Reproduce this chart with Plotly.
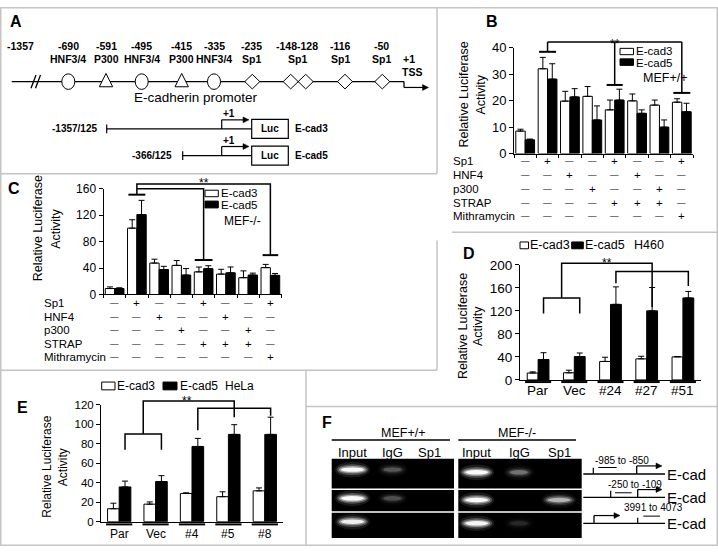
import plotly.graph_objects as go

W, H = 718, 554
FONT = "Liberation Sans, Arial, Helvetica, sans-serif"

# ------------------------------------------------------------------ data
treat_rows = ["Sp1", "HNF4", "p300", "STRAP", "Mithramycin"]
treat_matrix = [
    ["-", "+", "-", "-", "+", "-", "-", "+"],
    ["-", "-", "+", "-", "-", "+", "-", "-"],
    ["-", "-", "-", "+", "-", "-", "+", "-"],
    ["-", "-", "-", "-", "+", "+", "+", "-"],
    ["-", "-", "-", "-", "-", "-", "-", "+"],
]
series_names = ["E-cad3", "E-cad5"]

b_ecad3 = [8.5, 32.0, 19.8, 21.6, 16.5, 19.9, 18.3, 19.4]
b_ecad3_err = [0.7, 4.3, 3.7, 3.7, 3.7, 2.6, 1.9, 1.3]
b_ecad5 = [5.2, 28.1, 21.4, 12.7, 20.2, 15.2, 10.0, 15.8]
b_ecad5_err = [0.3, 5.8, 3.1, 5.3, 4.1, 1.3, 2.7, 3.2]
b_ticks = [0, 10, 20, 30, 40]

c_ecad3 = [9.0, 100.3, 47.5, 44.0, 34.2, 30.8, 25.4, 40.6]
c_ecad3_err = [2.5, 12.7, 5.9, 7.3, 7.3, 7.3, 10.3, 4.9]
c_ecad5 = [9.0, 120.8, 37.7, 29.4, 39.1, 32.8, 29.4, 28.9]
c_ecad5_err = [1.2, 21.5, 4.9, 9.8, 4.4, 8.8, 2.9, 2.9]
c_ticks = [0, 40, 80, 120, 160]

d_groups = ["Par", "Vec", "#24", "#27", "#51"]
d_ecad3 = [12.0, 12.4, 32.1, 36.6, 40.0]
d_ecad3_err = [2.0, 4.5, 7.3, 4.5, 0.7]
d_ecad5 = [35.5, 40.6, 131.3, 120.0, 142.5]
d_ecad5_err = [11.8, 6.2, 30.4, 40.6, 11.3]
d_ticks = [0, 40, 80, 120, 160, 200]

e_groups = ["Par", "Vec", "#4", "#5", "#8"]
e_ecad3 = [13.3, 18.0, 29.0, 25.7, 31.7]
e_ecad3_err = [5.7, 2.3, 0.7, 5.0, 3.0]
e_ecad5 = [35.7, 41.3, 77.3, 89.7, 89.7]
e_ecad5_err = [6.0, 6.0, 8.3, 10.0, 17.7]
e_ticks = [0, 20, 40, 60, 80, 100, 120]

promoter_pos = ["-1357", "-690", "-591", "-495", "-415", "-335", "-235", "-148-128", "-116", "-50"]
promoter_site = ["", "HNF3/4", "P300", "HNF3/4", "P300", "HNF3/4", "Sp1", "Sp1", "Sp1", "Sp1"]
construct_labels = ["-1357/125", "-366/125"]
construct_names = ["E-cad3", "E-cad5"]

gel_cells = ["MEF+/+", "MEF-/-"]
gel_lanes = ["Input", "IgG", "Sp1"]
gel_wt = [[1.0, 0.22, 0.0], [1.0, 0.2, 0.0], [0.9, 0.0, 0.0]]
gel_ko = [[1.0, 0.3, 0.0], [1.0, 0.0, 0.55], [0.95, 0.1, 0.0]]
gel_regions = ["-985 to -850", "-250 to -109", "3991 to 4073"]

# ------------------------------------------------------------------ helpers
def px(x):
    return x / W


def py(y):
    return 1 - y / H


shapes = []
annotations = []


def seg(x0, y0, x1, y1, w=1.2, color="black"):
    shapes.append(dict(type="line", xref="paper", yref="paper",
                       x0=px(x0), y0=py(y0), x1=px(x1), y1=py(y1),
                       line=dict(color=color, width=w)))


def rect(x0, y0, x1, y1, fill="white", lw=1.0, lc="black"):
    shapes.append(dict(type="rect", xref="paper", yref="paper",
                       x0=px(x0), y0=py(y0), x1=px(x1), y1=py(y1),
                       fillcolor=fill, line=dict(color=lc, width=lw)))


def ellipse(cx, cy, rx, ry, fill="white", lw=1.0, lc="black"):
    shapes.append(dict(type="circle", xref="paper", yref="paper",
                       x0=px(cx - rx), y0=py(cy + ry), x1=px(cx + rx), y1=py(cy - ry),
                       fillcolor=fill, line=dict(color=lc, width=lw)))


def poly_px(pts, fill=None, lw=1.0, closed=False):
    d = ""
    for i, (x, y) in enumerate(pts):
        d += ("M" if i == 0 else "L") + f"{px(x):.5f},{py(y):.5f}"
    if closed:
        d += "Z"
    s = dict(type="path", xref="paper", yref="paper", path=d,
             line=dict(color="black", width=lw))
    if fill:
        s["fillcolor"] = fill
    shapes.append(s)


def text(x, y, s, size=12, bold=False, xanchor="center", yanchor="middle",
         angle=0, color="black"):
    if bold:
        s = f"<b>{s}</b>"
    annotations.append(dict(xref="paper", yref="paper", x=px(x), y=py(y), text=s,
                            showarrow=False, xanchor=xanchor, yanchor=yanchor,
                            textangle=angle, borderpad=0,
                            font=dict(size=size, color=color, family=FONT)))


def arrow(x0, y, x1, lw=1.2, head=6, half=3):
    seg(x0, y, x1 - head + 1, y, w=lw)
    poly_px([(x1, y), (x1 - head, y - half), (x1 - head, y + half)], fill="black",
            lw=0.5, closed=True)


# ------------------------------------------------------------------ panels
PB = dict(x0=514, x1=693, n=8, yb=150.7, yt=41.7, ymax=40)
PC = dict(x0=103.5, x1=281.5, n=8, yb=295.5, yt=186.7, ymax=160)
PD = dict(x0=520, x1=701, n=5, yb=383.3, yt=265, ymax=200)
PE = dict(x0=101, x1=283, n=5, yb=529, yt=409, ymax=120)


def X(p, xd):
    return p["x0"] + (xd + 0.5) / p["n"] * (p["x1"] - p["x0"])


def Y(p, v):
    return p["yb"] - v / p["ymax"] * (p["yb"] - p["yt"])


def bracket(p, pts, lw=1.5):
    poly_px([(X(p, a), Y(p, b)) for a, b in pts], lw=lw)


def capbar(p, xd, v, half=0.38, lw=2):
    seg(X(p, xd - half), Y(p, v), X(p, xd + half), Y(p, v), w=lw)


fig = go.Figure()
layout = {}


def add_panel(p, idx, v3, e3, v5, e5, w, ticks, fsize, xticks):
    sfx = "" if idx == 1 else str(idx)
    layout["xaxis" + sfx] = dict(
        domain=[px(p["x0"]), px(p["x1"])], range=[-0.5, p["n"] - 0.5],
        anchor="y" + sfx, showline=True, linecolor="black", linewidth=1,
        showgrid=False, zeroline=False, showticklabels=False,
        ticks="outside" if xticks else "", tickvals=[i - 0.5 for i in range(p["n"] + 1)],
        ticklen=3, tickcolor="black", fixedrange=True)
    layout["yaxis" + sfx] = dict(
        domain=[py(p["yb"]), py(p["yt"])], range=[0, p["ymax"]],
        anchor="x" + sfx, showline=True, linecolor="black", linewidth=1,
        showgrid=False, zeroline=False, ticks="outside", ticklen=4,
        tickcolor="black", tickvals=ticks, fixedrange=True,
        tickfont=dict(size=fsize, family=FONT, color="black"))
    xs = list(range(p["n"]))
    for vals, errs, fill, off, nm in [(v3, e3, "white", -w, series_names[0]),
                                      (v5, e5, "black", 0, series_names[1])]:
        fig.add_trace(go.Bar(
            x=xs, y=vals, width=w, offset=off, name=nm,
            marker=dict(color=fill, line=dict(color="black", width=1)),
            error_y=dict(type="data", array=errs, arrayminus=[0] * len(errs),
                         symmetric=False, color="black", thickness=1, width=3),
            xaxis="x" + sfx, yaxis="y" + sfx, showlegend=False))


add_panel(PB, 1, b_ecad3, b_ecad3_err, b_ecad5, b_ecad5_err, 0.42, b_ticks, 13, True)
add_panel(PC, 2, c_ecad3, c_ecad3_err, c_ecad5, c_ecad5_err, 0.42, c_ticks, 12, True)
add_panel(PD, 3, d_ecad3, d_ecad3_err, d_ecad5, d_ecad5_err, 0.30, d_ticks, 13.5, False)
add_panel(PE, 4, e_ecad3, e_ecad3_err, e_ecad5, e_ecad5_err, 0.32, e_ticks, 11.5, False)


def treatment_table(p, label_x, row_ys, size=11.5):
    for r, name in enumerate(treat_rows):
        text(label_x, row_ys[r], name, size=size, xanchor="left")
        for g, sym in enumerate(treat_matrix[r]):
            if sym == "+":
                text(X(p, g), row_ys[r], "+", size=size)
            else:
                text(X(p, g), row_ys[r], "\u2014", size=8.5)


treatment_table(PB, 452, [158.3, 172.7, 186.7, 201, 214.8])
treatment_table(PC, 43, [304.5, 318.5, 332.5, 346.7, 360])

# y-axis titles
for (x1, x2, yc, fs) in [(464, 481, 90, 12.5), (37.5, 56, 228, 12.5),
                         (463, 478, 328, 12.5), (47.5, 63, 473, 12)]:
    text(x1, yc, "Relative Luciferase", size=fs, angle=-90)
    text(x2, yc, "Activity", size=fs, angle=-90)

# panel letters
for (lx, ly, L) in [(16, 15, "A"), (492, 15, "B"), (14, 187, "C"), (469, 253, "D"),
                    (22, 412, "E"), (326.7, 427, "F")]:
    text(lx, ly, L, size=16, bold=True)

# ---- legends
# B
rect(620, 42.5, 633.5, 49)
text(635, 45.3, series_names[0], size=11.5, xanchor="left")
rect(620, 53.3, 633.5, 60, fill="black")
text(635, 57.2, series_names[1], size=11.5, xanchor="left")
text(665, 72.5, "MEF+/+", size=12.5)
# C
rect(205, 188.3, 218.3, 195)
text(220, 191.5, series_names[0], size=11.5, xanchor="left")
rect(205, 199.5, 218.3, 206.5, fill="black")
text(220, 203.3, series_names[1], size=11.5, xanchor="left")
text(242.5, 220, "MEF-/-", size=12)
# D
rect(520, 241.5, 528.5, 248.5)
text(529, 245, series_names[0], size=12.5, xanchor="left")
rect(571.7, 241.5, 583.3, 248.5, fill="black")
text(584, 245, series_names[1], size=12.5, xanchor="left")
text(633, 245, "H460", size=12.5, xanchor="left")
# E
rect(101.7, 385.5, 115, 393.5)
text(116, 389.5, series_names[0], size=12, xanchor="left")
rect(163, 385.5, 177, 393.5, fill="black")
text(178.5, 389.5, series_names[1], size=12, xanchor="left")
text(224, 389.5, "HeLa", size=12, xanchor="left")

# ---- significance brackets
# B
bracket(PB, [(1, 42.1), (7, 42.1)])
bracket(PB, [(1, 42.1), (1, 38.4)])
bracket(PB, [(4, 42.1), (4, 25.9)])
bracket(PB, [(7, 42.1), (7, 22.9)])
capbar(PB, 1, 38.4)
capbar(PB, 4, 25.9, half=0.36)
capbar(PB, 7, 22.9)
text(X(PB, 4), 29.5, "**", size=12, yanchor="top")
# C
bracket(PC, [(1, 150.9), (1, 167), (7, 167), (7, 59.5)])
bracket(PC, [(1, 159.7), (4, 159.7), (4, 52.1)])
capbar(PC, 1, 150.9)
capbar(PC, 4, 52.1, half=0.4)
capbar(PC, 7, 59.5, half=0.35)
text(X(PC, 4), 172.8, "**", size=12, yanchor="top")
# D
bracket(PD, [(0.15, 115.4), (0.15, 142.5), (1.15, 142.5), (1.15, 115.4)])
bracket(PD, [(0.65, 142.5), (0.65, 202.8), (3.15, 202.8), (3.15, 126.8)])
bracket(PD, [(2.15, 167.8), (2.15, 188.6), (4.15, 188.6), (4.15, 163.3)])
text(X(PD, 1.9), 254.5, "**", size=12, yanchor="top")
# E
bracket(PE, [(0.16, 74), (0.16, 90), (1.16, 90), (1.16, 74)])
bracket(PE, [(0.66, 90), (0.66, 124), (3.16, 124), (3.16, 107.3)])
bracket(PE, [(2.16, 94), (2.16, 116.7), (4.16, 116.7), (4.16, 109)])
text(X(PE, 1.85), 396.8, "**", size=12, yanchor="top")

# ---- group underlines and labels for D/E
for p, labs, yl, yt_, fs in [(PD, d_groups, 385.5, 394, 13.5), (PE, e_groups, 531.8, 542, 12)]:
    for g, lab in enumerate(labs):
        seg(X(p, g - 0.36), yl, X(p, g + 0.36), yl, w=2)
        text(X(p, g), yt_, lab, size=fs)

# ------------------------------------------------------------------ panel A diagram
top_x = [20, 68.3, 106, 141.7, 181.7, 214, 251.7, 297, 340, 381]
for i, lab in enumerate(promoter_pos):
    text(top_x[i], 40, lab, size=10.5, bold=True)
    if promoter_site[i]:
        text(top_x[i], 53.3, promoter_site[i], size=10.5, bold=True)
text(409.3, 53.3, "+1", size=10.5, bold=True)
text(412, 66.7, "TSS", size=10.5, bold=True)

LY = 76.7
seg(11.7, LY, 404, LY, w=1.3)
seg(31, 83.5, 36, 70, w=1.3)
seg(35.5, 83.5, 40.5, 70, w=1.3)
seg(404, LY, 404, 82.7, w=1.3)
arrow(404, 82.7, 428.5)

for cx in [68.3, 141.7, 214]:
    ellipse(cx, LY, 6.5, 8)
for cx in [106, 181.7]:
    poly_px([(cx, 68.3), (cx - 6.7, 82), (cx + 6.7, 82)], fill="white", lw=1, closed=True)
for cx in [252.3, 290.7, 305.7, 345, 382.3]:
    poly_px([(cx, LY - 7.5), (cx + 7.5, LY), (cx, LY + 7.5), (cx - 7.5, LY)],
            fill="white", lw=1, closed=True)
text(196, 93.5, "E-cadherin promoter", size=13.5)

for (lab, nm, yl, xstart, xlab) in [(construct_labels[0], construct_names[0], 125.3, 106.7, 98),
                                    (construct_labels[1], construct_names[1], 152.7, 182.7, 173)]:
    text(xlab, yl, lab, size=10, bold=True, xanchor="right")
    seg(xstart, yl - 4.5, xstart, yl + 4.5, w=1.2)
    seg(xstart, yl, 251.7, yl, w=1.2)
    seg(221.7, yl, 221.7, yl - 9.3, w=1.2)
    arrow(221.7, yl - 9.3, 249)
    text(229, yl - 15.5, "+1", size=10, bold=True)
    rect(251.7, yl - 9.8, 288.3, yl + 9.8, lw=1.2)
    text(270, yl, "Luc", size=10, bold=True)
    text(293.5, yl, nm, size=10, bold=True, xanchor="left")

# ------------------------------------------------------------------ panel F gel
text(403.3, 437.5, gel_cells[0], size=12.5)
seg(331.7, 445, 450, 445, w=1.5)
text(516.7, 437.5, gel_cells[1], size=12.5)
seg(458.3, 445, 576, 445, w=1.5)

gel_x = [(331.7, 454), (458.3, 581.7)]
lane_cx = [[352.5, 392.5, 430], [476.7, 519, 559]]
row_box = [(464.3, 495), (496.4, 518.4), (519.8, 545.7)]
band_y = [[475.5, 505, 529], [478.3, 506.7, 530.7]]
band_w = [31, 26, 31]

for gi, (gx0, gx1) in enumerate(gel_x):
    for li, lane in enumerate(gel_lanes):
        text(lane_cx[gi][li], 457.5, lane, size=13)
    data = gel_wt if gi == 0 else gel_ko
    for ri, (ry0, ry1) in enumerate(row_box):
        rect(gx0, ry0, gx1, ry1, fill="black", lw=0)
        for li in range(3):
            inten = data[ri][li]
            if inten <= 0:
                continue
            cx = lane_cx[gi][li]
            cy = band_y[gi][ri]
            bw = band_w[li] / 2
            ellipse(cx, cy, bw + 2, 8, fill=f"rgba(255,255,255,{0.10 * inten:.3f})", lw=0)
            ellipse(cx, cy, bw, 5.5, fill=f"rgba(255,255,255,{0.25 * inten:.3f})", lw=0)
            ellipse(cx, cy, bw - 2, 3.8, fill=f"rgba(255,255,255,{0.45 * inten:.3f})", lw=0)
            ellipse(cx, cy, bw - 4, 2.3, fill=f"rgba(255,255,255,{0.95 * inten:.3f})", lw=0)

# schematic right of gel
rows_y = [480, 504, 530.7]
for ri, ly in enumerate(rows_y):
    seg(583.3, ly, 665, ly, w=1.3)
    text(666, ly, "E-cad", size=15, xanchor="left")
# row 1
text(621.7, 466.3, gel_regions[0], size=10)
seg(593.3, 473.5, 593.3, 480, w=1.2)
seg(598.3, 473.3, 616.7, 473.3, w=1)
seg(636.7, 480, 636.7, 471.7, w=1.3)
arrow(636.7, 471.7, 662)
# row 2
text(635, 490.3, gel_regions[1], size=10)
seg(610.7, 497.3, 610.7, 504, w=1.2)
seg(615, 499.3, 631.7, 499.3, w=1)
seg(637.7, 504, 637.7, 496, w=1.3)
arrow(637.7, 496, 662)
# row 3
text(653.3, 514.3, gel_regions[2], size=10)
seg(594, 530.7, 594, 522.7, w=1.3)
arrow(594, 522.7, 620)
seg(637.7, 525, 637.7, 530.7, w=1.2)
seg(643.3, 523.3, 660, 523.3, w=1)

# ------------------------------------------------------------------ panel borders
BC = "#c4c4c4"
rect(0.75, 0.75, 717.25, 553.25, fill="rgba(0,0,0,0)", lw=1.5, lc=BC)
seg(437, 0, 437, 171.5, w=1.5, color=BC)
seg(0, 171.5, 437, 171.5, w=1.5, color=BC)
seg(452, 231.5, 718, 231.5, w=1.5, color=BC)
seg(437, 240, 437, 373.3, w=1.5, color=BC)
seg(0, 373.3, 437, 373.3, w=1.5, color=BC)
seg(306, 373.3, 306, 554, w=1.5, color=BC)
seg(306, 410.5, 718, 410.5, w=1.5, color=BC)

layout.update(dict(
    width=W, height=H, autosize=False,
    margin=dict(l=0, r=0, t=0, b=0),
    paper_bgcolor="white", plot_bgcolor="white",
    barmode="overlay", showlegend=False,
    font=dict(family=FONT, color="black"),
    shapes=shapes, annotations=annotations,
))
fig.update_layout(**layout)
fig.write_html(
    "out.html",
    config={"displayModeBar": False},
    post_script="document.body.style.margin='0';document.body.style.padding='0';"
                "document.body.style.overflow='hidden';",
)
